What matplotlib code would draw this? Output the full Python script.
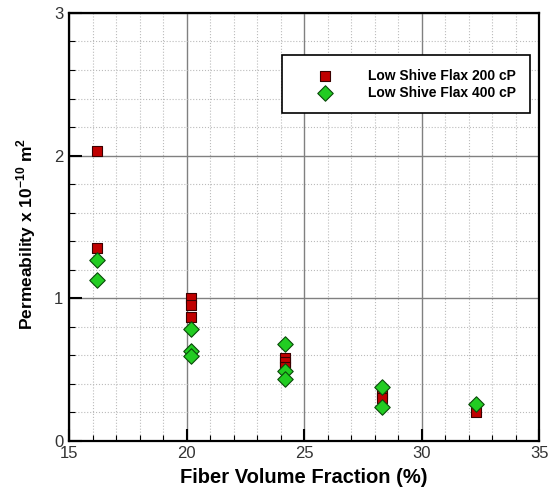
import matplotlib
matplotlib.use("Agg")
import matplotlib.pyplot as plt
from matplotlib.ticker import MultipleLocator

plt.rcParams["font.family"] = ["Liberation Sans", "DejaVu Sans"]
plt.rcParams["mathtext.fontset"] = "custom"
plt.rcParams["mathtext.bf"] = "Liberation Sans:bold"
plt.rcParams["mathtext.rm"] = "Liberation Sans:bold"

# Fiber volume fraction (%) and permeability (x 1e-10 m^2)
vf_200 = [16.2, 16.2, 20.2, 20.2, 20.2, 24.2, 24.2, 24.2, 28.3, 28.3, 32.3]
k_200 = [2.03, 1.355, 1.0, 0.955, 0.868, 0.58, 0.55, 0.52, 0.33, 0.30, 0.20]

vf_400 = [16.2, 16.2, 20.2, 20.2, 20.2, 24.2, 24.2, 24.2, 28.3, 28.3, 32.3]
k_400 = [1.265, 1.13, 0.785, 0.632, 0.597, 0.675, 0.492, 0.434, 0.38, 0.235, 0.258]

fig = plt.figure(figsize=(5.48, 4.98), dpi=100)
ax = fig.add_axes([0.126, 0.115, 0.858, 0.859])

ax.scatter(vf_200, k_200, marker="s", s=60, color="#c00000", edgecolors="#3a0000",
           linewidths=0.8, label="Low Shive Flax 200 cP", zorder=3)
ax.scatter(vf_400, k_400, marker="D", s=62, color="#22cc22", edgecolors="#0a4a0a",
           linewidths=0.8, label="Low Shive Flax 400 cP", zorder=3)

ax.set_xlim(15, 35)
ax.set_ylim(0, 3)
ax.xaxis.set_major_locator(MultipleLocator(5))
ax.xaxis.set_minor_locator(MultipleLocator(1))
ax.yaxis.set_major_locator(MultipleLocator(1))
ax.yaxis.set_minor_locator(MultipleLocator(0.2))

ax.grid(True, which="major", color="#808080", linewidth=1.0, linestyle="-")
ax.grid(True, which="minor", color="#bbbbbb", linewidth=0.8, linestyle=":")
ax.set_axisbelow(True)

ax.tick_params(which="major", direction="in", length=9, width=1.5, labelsize=12,
               colors="black", pad=4)
ax.tick_params(which="minor", direction="in", length=4, width=0.8)
for lab in ax.get_xticklabels() + ax.get_yticklabels():
    lab.set_color("#333333")
for sp in ax.spines.values():
    sp.set_linewidth(1.6)

ax.set_xlabel("Fiber Volume Fraction (%)", fontsize=14.5, fontweight="bold", labelpad=5)
ax.set_ylabel(r"Permeability x 10$^{\mathbf{-10}}$ m$^{\mathbf{2}}$", fontsize=12.5,
              fontweight="bold")
ax.yaxis.set_label_coords(-0.066, 0.484)

leg = ax.legend(loc="upper right", bbox_to_anchor=(0.981, 0.902), frameon=True,
                fancybox=False, edgecolor="black", framealpha=1,
                prop={"weight": "bold", "size": 10}, markerfirst=True,
                handlelength=4.2, handletextpad=1.0, borderpad=1.0,
                labelspacing=0.2, borderaxespad=0)
leg.get_frame().set_linewidth(1.2)

fig.savefig("out.png", dpi=100)
